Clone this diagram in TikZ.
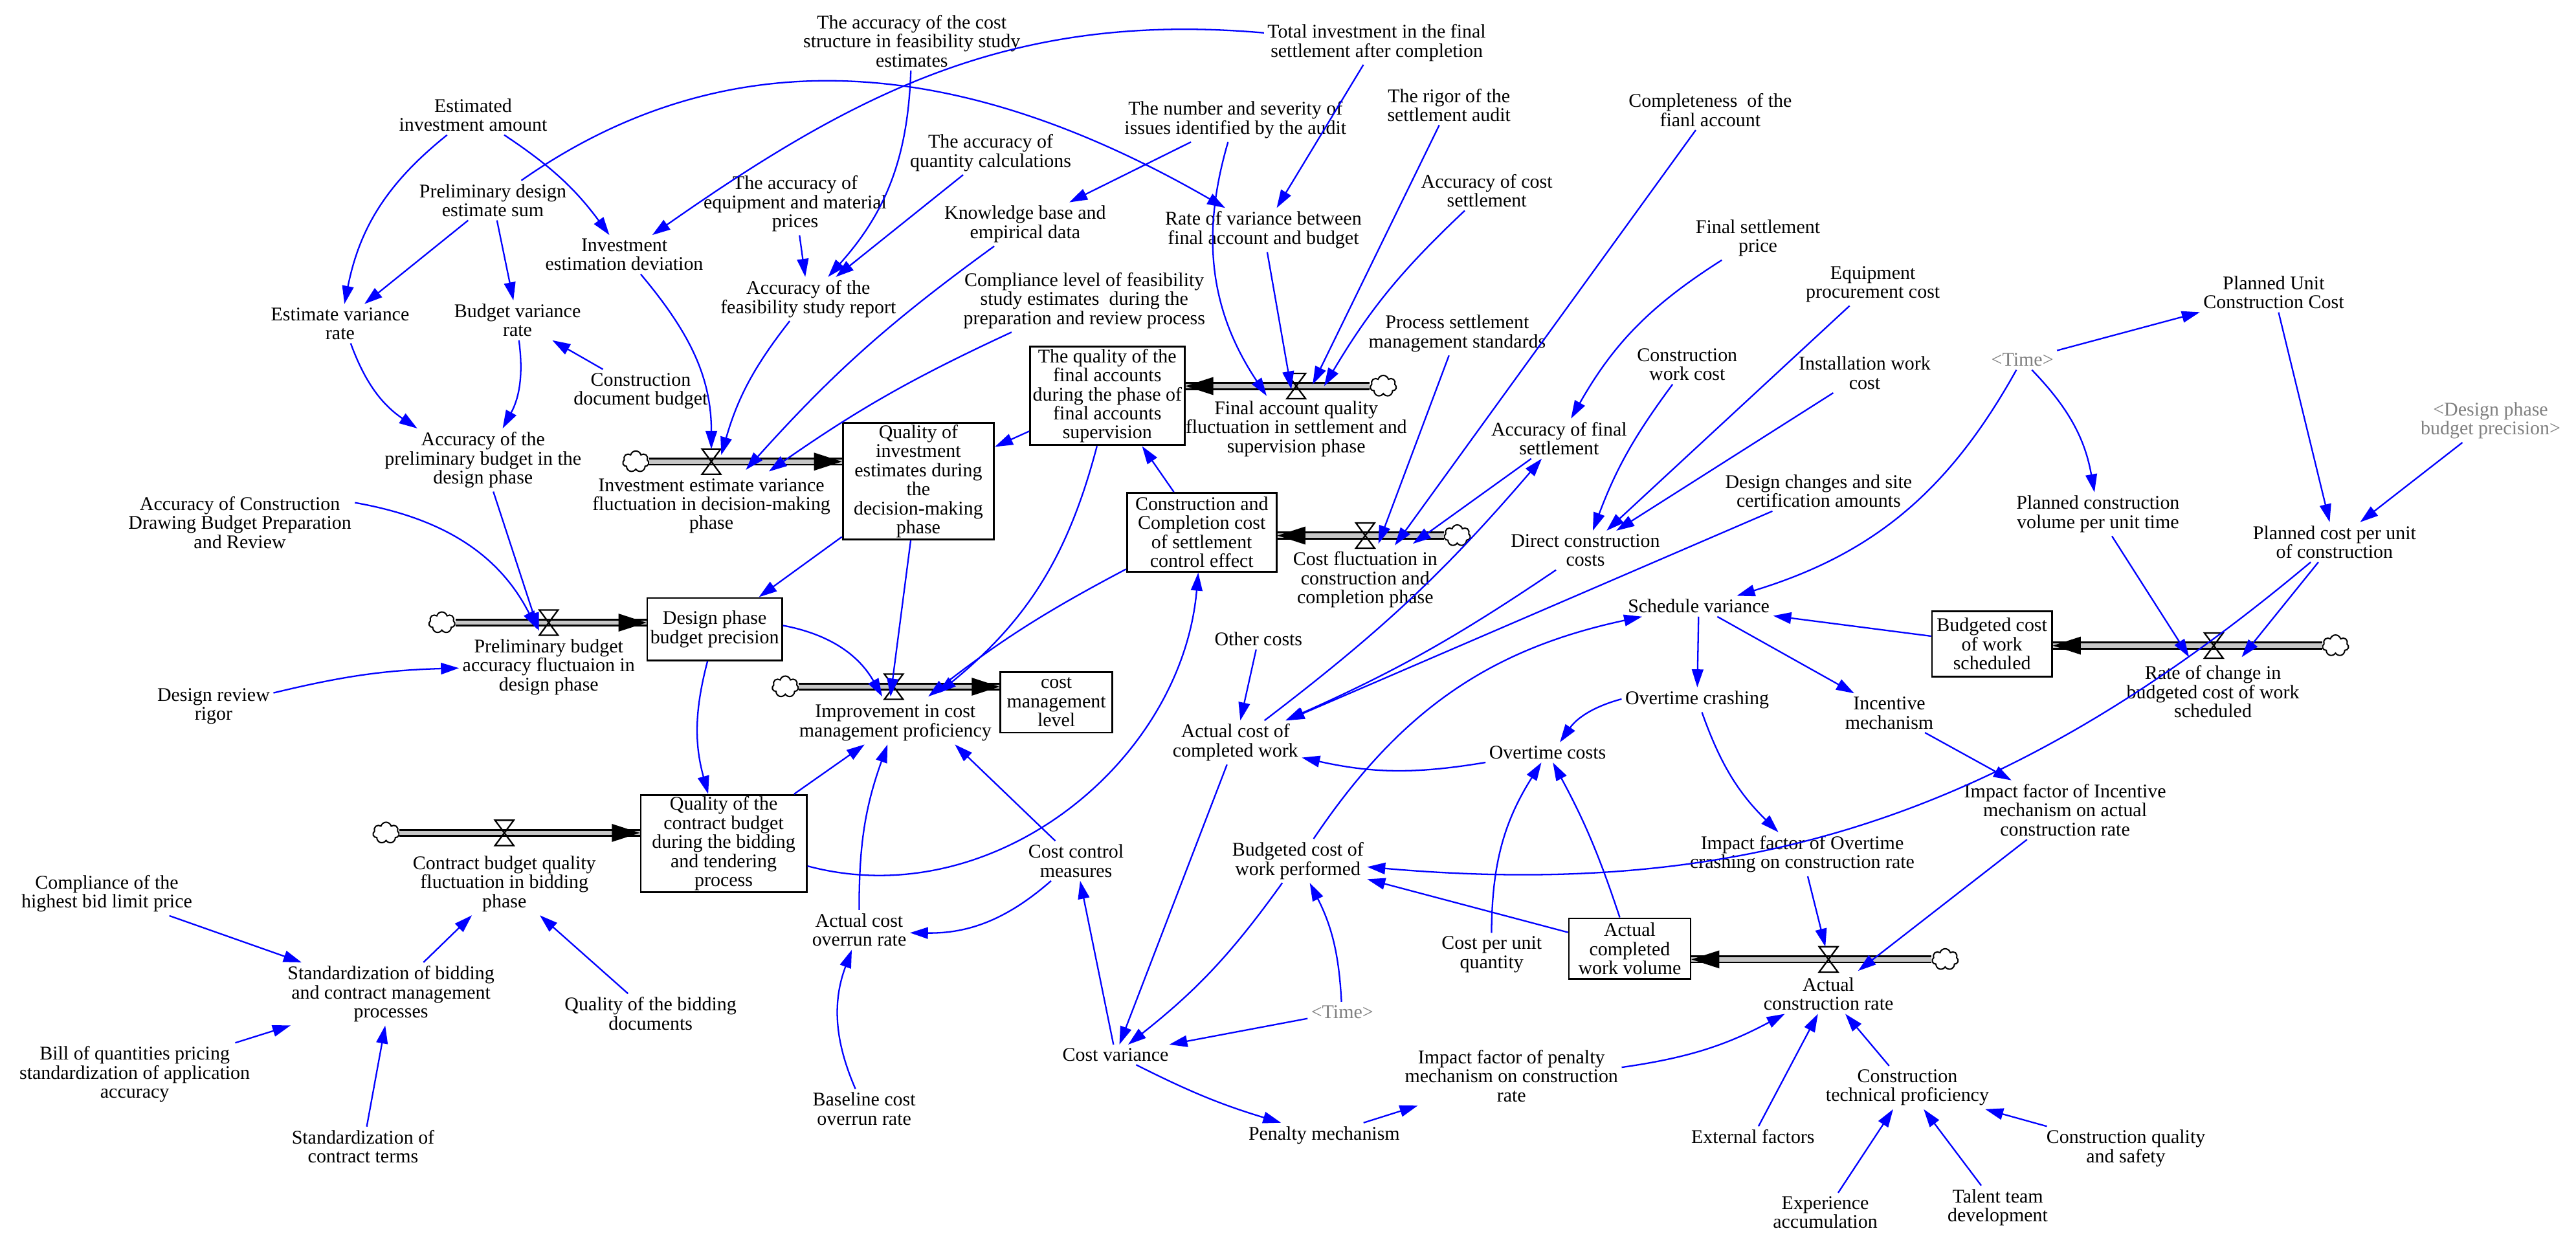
\documentclass[tikz,border=0pt]{standalone}
\usepackage{fontspec}
\setmainfont{Liberation Serif}
\usetikzlibrary{arrows.meta,shapes.symbols,calc}
\definecolor{lkblue}{RGB}{0,0,255}
\definecolor{shgray}{RGB}{128,128,128}
\newcommand{\drawvalve}[1]{\draw[black,line width=0.9pt] (#1.north west) -- (#1.north east) -- (#1.south west) -- (#1.south east) -- cycle;}
\begin{document}
\begin{tikzpicture}[x=1pt,y=1pt,
 v/.style={align=center,inner sep=2pt,font=\fontsize{11.8}{11.6}\selectfont},
 gv/.style={v,text=shgray},
 stock/.style={v,draw=black,line width=1.1pt,inner sep=1pt},
 lk/.style={draw=lkblue,line width=0.9pt,-{Triangle[length=11pt,width=7pt]}},
 pipe/.style={draw=black,line width=1.1pt,double=gray!45,double distance=2.6pt},
 cloudn/.style={cloud,cloud puffs=7,aspect=1.2,draw=black,fill=white,line width=0.8pt,minimum width=16pt,minimum height=13pt,inner sep=0pt},
 valve/.style={inner sep=0pt,minimum width=11pt,minimum height=15pt}]
\path[fill=white] (0,0) rectangle (1568,-762.7);
\useasboundingbox (0,0) rectangle (1568,-762.7);

% ---------- variables ----------
\node[v] (estinv) at (288,-70) {Estimated\\investment amount};
\node[v] (prelim) at (300,-122) {Preliminary design\\estimate sum};
\node[v] (invdev) at (380,-155) {Investment\\estimation deviation};
\node[v] (estvar) at (207,-197) {Estimate variance\\rate};
\node[v] (budvar) at (315,-195) {Budget variance\\rate};
\node[v] (cdb) at (390,-238) {Construction\\document budget};
\node[v] (accprel) at (294,-280) {Accuracy of the\\preliminary budget in the\\design phase};
\node[v] (accCDBP) at (146,-318) {Accuracy of Construction\\Drawing Budget Preparation\\and Review};
\node[v] (review) at (130,-430) {Design review\\rigor};
\node[v] (lblA) at (334,-406) {Preliminary budget\\accuracy fluctuaion in\\design phase};
\node[stock,minimum width=82pt,minimum height=38pt] (sDesign) at (435,-383) {Design phase\\budget precision};
\node[v] (lblB) at (433,-308) {Investment estimate variance\\fluctuation in decision-making\\phase};
\node[stock,minimum width=92pt,minimum height=70pt] (sQInv) at (559,-293) {Quality of\\investment\\estimates during\\the\\decision-making\\phase};
\node[v] (coststruct) at (555,-25) {The accuracy of the cost\\structure in feasibility study\\estimates};
\node[v] (accEquip) at (484,-124) {The accuracy of\\equipment and material\\prices};
\node[v] (accQty) at (603,-93) {The accuracy of\\quantity calculations};
\node[v] (accFS) at (492,-182) {Accuracy of the\\feasibility study report};
\node[v] (know) at (624,-136.5) {Knowledge base and\\empirical data};
\node[v] (compLevel) at (660,-183) {Compliance level of feasibility\\study estimates~ during the\\preparation and review process};
\node[v] (numsev) at (752,-73) {The number and severity of\\issues identified by the audit};
\node[v] (totinv) at (838,-26) {Total investment in the final\\settlement after completion};
\node[v] (rateVar) at (769,-140) {Rate of variance between\\final account and budget};
\node[v] (rigor) at (882,-64) {The rigor of the\\settlement audit};
\node[v] (accCostSet) at (905,-116) {Accuracy of cost\\settlement};
\node[v] (complete) at (1041,-67) {Completeness~ of the\\fianl account};
\node[v] (procStd) at (887,-203) {Process settlement\\management standards};
\node[v] (finalPrice) at (1070,-145) {Final settlement\\price};
\node[v] (equip) at (1140,-173) {Equipment\\procurement cost};
\node[v] (constrWork) at (1027,-222) {Construction\\work cost};
\node[v] (install) at (1135,-227) {Installation work\\cost};
\node[stock,minimum width=94pt,minimum height=60pt] (sFinal) at (674,-241) {The quality of the\\final accounts\\during the phase of\\final accounts\\supervision};
\node[v] (lblC) at (789,-261) {Final account quality\\fluctuation in settlement and\\supervision phase};
\node[stock,minimum width=91pt,minimum height=48pt] (sCC) at (731.5,-324) {Construction and\\Completion cost\\of settlement\\control effect};
\node[v] (lblD) at (831,-353) {Cost fluctuation in\\construction and\\completion phase};
\node[v] (accFinal) at (949,-267) {Accuracy of final\\settlement};
\node[v] (direct) at (965,-335) {Direct construction\\costs};
\node[v] (designChg) at (1107,-299) {Design changes and site\\certification amounts};
\node[v] (SV) at (1034,-369) {Schedule variance};
\node[stock,minimum width=73pt,minimum height=40pt] (sBCWS) at (1212.5,-392) {Budgeted cost\\of work\\scheduled};
\node[v] (lblH) at (1347,-421) {Rate of change in\\budgeted cost of work\\scheduled};
\node[v] (PCVUT) at (1277,-313) {Planned construction\\volume per unit time};
\node[v] (PCPU) at (1421,-330) {Planned cost per unit\\of construction};
\node[gv] (dshadow) at (1516,-256) {<Design phase\\budget precision>};
\node[v] (PUCC) at (1384,-178) {Planned Unit\\Construction Cost};
\node[gv] (timeTop) at (1231,-219) {<Time>};
\node[v] (other) at (766,-389) {Other costs};
\node[v] (ACWP) at (752,-452) {Actual cost of\\completed work};
\node[v] (OTcrash) at (1033,-426) {Overtime crashing};
\node[v] (OTcosts) at (942,-458) {Overtime costs};
\node[v] (incent) at (1150,-434) {Incentive\\mechanism};
\node[v] (IFI) at (1257,-493) {Impact factor of Incentive\\mechanism on actual\\construction rate};
\node[v] (IFO) at (1097,-520) {Impact factor of Overtime\\crashing on construction rate};
\node[v] (BCWP) at (790,-524) {Budgeted cost of\\work performed};
\node[v] (CPU) at (908,-581) {Cost per unit\\quantity};
\node[stock,minimum width=74pt,minimum height=37pt] (sACWV) at (992,-577.5) {Actual\\completed\\work volume};
\node[v] (lblG) at (1113,-605) {Actual\\construction rate};
\node[gv] (timeBot) at (817,-616) {<Time>};
\node[v] (CV) at (679,-642) {Cost variance};
\node[v] (CCM) at (655,-524) {Cost control\\measures};
\node[v] (ACOR) at (523,-566) {Actual cost\\overrun rate};
\node[v] (baseline) at (526,-675) {Baseline cost\\overrun rate};
\node[v] (penalty) at (806,-691) {Penalty mechanism};
\node[v] (IFP) at (920,-655) {Impact factor of penalty\\mechanism on construction\\rate};
\node[v] (ext) at (1067,-692) {External factors};
\node[v] (CTP) at (1161,-662) {Construction\\technical proficiency};
\node[v] (exper) at (1111,-738) {Experience\\accumulation};
\node[v] (talent) at (1216,-735) {Talent team\\development};
\node[v] (CQS) at (1294,-699) {Construction quality\\and safety};
\node[stock,minimum width=68pt,minimum height=37pt] (sCML) at (643,-427.5) {cost\\management\\level};
\node[v] (lblE) at (545,-440) {Improvement in cost\\management proficiency};
\node[stock,minimum width=101pt,minimum height=59pt] (sContract) at (440.5,-513.5) {Quality of the\\contract budget\\during the bidding\\and tendering\\process};
\node[v] (lblF) at (307,-538) {Contract budget quality\\fluctuation in bidding\\phase};
\node[v] (compBid) at (65,-544) {Compliance of the\\highest bid limit price};
\node[v] (stdBid) at (238,-605) {Standardization of bidding\\and contract management\\processes};
\node[v] (BoQ) at (82,-654) {Bill of quantities pricing\\standardization of application\\accuracy};
\node[v] (stdTerms) at (221,-698) {Standardization of\\contract terms};
\node[v] (qualDoc) at (396,-617) {Quality of the bidding\\documents};

% ---------- clouds and valves ----------
\node[cloudn] (cA) at (269,-379) {};
\node[valve] (vA) at (334,-379) {};
\node[cloudn] (cB) at (387,-281) {};
\node[valve] (vB) at (433,-281) {};
\node[cloudn] (cC) at (842,-235) {};
\node[valve] (vC) at (789,-235) {};
\node[cloudn] (cD) at (887,-326) {};
\node[valve] (vD) at (831,-326) {};
\node[cloudn] (cE) at (478,-418) {};
\node[valve] (vE) at (544,-418) {};
\node[cloudn] (cF) at (235,-507) {};
\node[valve] (vF) at (307,-507) {};
\node[cloudn] (cG) at (1184,-584) {};
\node[valve] (vG) at (1113,-584) {};
\node[cloudn] (cH) at (1421.6,-393) {};
\node[valve] (vH) at (1347.5,-393) {};

% ---------- pipes ----------
\draw[pipe] (cA.east) -- (cA.east -| sDesign.west);
\fill (cA.east -| sDesign.west) -- ++(-17,5.5) -- ++(0,-11) -- cycle;
\draw[pipe] (cB.east) -- (cB.east -| sQInv.west);
\fill (cB.east -| sQInv.west) -- ++(-17,5.5) -- ++(0,-11) -- cycle;
\draw[pipe] (cE.east) -- (cE.east -| sCML.west);
\fill (cE.east -| sCML.west) -- ++(-17,5.5) -- ++(0,-11) -- cycle;
\draw[pipe] (cF.east) -- (cF.east -| sContract.west);
\fill (cF.east -| sContract.west) -- ++(-17,5.5) -- ++(0,-11) -- cycle;
\draw[pipe] (cC.west) -- (cC.west -| sFinal.east);
\fill (cC.west -| sFinal.east) -- ++(17,5.5) -- ++(0,-11) -- cycle;
\draw[pipe] (cD.west) -- (cD.west -| sCC.east);
\fill (cD.west -| sCC.east) -- ++(17,5.5) -- ++(0,-11) -- cycle;
\draw[pipe] (cG.west) -- (cG.west -| sACWV.east);
\fill (cG.west -| sACWV.east) -- ++(17,5.5) -- ++(0,-11) -- cycle;
\draw[pipe] (cH.west) -- (cH.west -| sBCWS.east);
\fill (cH.west -| sBCWS.east) -- ++(17,5.5) -- ++(0,-11) -- cycle;
\drawvalve{vA}\drawvalve{vB}\drawvalve{vC}\drawvalve{vD}
\drawvalve{vE}\drawvalve{vF}\drawvalve{vG}\drawvalve{vH}

% ---------- links ----------
\draw[lk] (estinv) to[bend right=20] (estvar);
\draw[lk] (estinv) to[bend left=10] (invdev);
\draw[lk] (prelim) -- (estvar);
\draw[lk] (prelim) -- (budvar);
\draw[lk] (estvar) to[bend right=18] (accprel);
\draw[lk] (budvar) to[bend left=18] (accprel);
\draw[lk] (cdb) -- (budvar);
\draw[lk] (prelim) to[out=35,in=150] (rateVar);
\draw[lk] (totinv) to[out=175,in=35] (invdev);
\draw[lk] (coststruct) to[bend left=20] (accFS);
\draw[lk] (accEquip) -- (accFS);
\draw[lk] (accQty) -- (accFS);
\draw[lk] (invdev) to[out=-50,in=90] (vB);
\draw[lk] (accFS) to[bend right=11] ([xshift=6pt,yshift=4pt]vB.center);
\draw[lk] (know) to[bend right=6] ([xshift=21pt,yshift=-5pt]vB.center);
\draw[lk] (compLevel) to[bend right=5] ([xshift=35pt,yshift=-6pt]vB.center);
\draw[lk] (accprel) -- ([xshift=-6pt,yshift=-5pt]vA.center);
\draw[lk] ([yshift=-6pt]accCDBP.north east) to[out=-10,in=117] ([xshift=-7pt,yshift=-4pt]vA.center);
\draw[lk] (review) to[bend left=6] (lblA);
\draw[lk] (sQInv) -- (sDesign);
\draw[lk] (sFinal) -- (sQInv);
\draw[lk] (sQInv) -- ([xshift=-2pt,yshift=-6pt]vE.center);
\draw[lk] (sDesign) to[bend left=25] ([xshift=-7pt,yshift=-6pt]vE.center);
\draw[lk] (sFinal) to[bend left=18] ([xshift=27pt,yshift=-4pt]vE.center);
\draw[lk] (sCC) to[bend right=5] ([xshift=21pt,yshift=-6pt]vE.center);
\draw[lk] (sCC) -- (sFinal);
\draw[lk] (sDesign) to[bend right=15] (sContract);
\draw[lk] (sContract) -- (lblE);
\draw[lk] (sContract) to[out=-15,in=-95] (sCC);
\draw[lk] (ACOR) to[bend left=10] (lblE);
\draw[lk] (CCM) -- (lblE.-20);
\draw[lk] (CCM) to[bend left=21] (ACOR);
\draw[lk] (baseline) to[bend left=22] (ACOR);
\draw[lk] (compBid) -- (stdBid);
\draw[lk] (BoQ) -- (stdBid);
\draw[lk] (stdTerms) -- (stdBid);
\draw[lk] (stdBid) -- (lblF);
\draw[lk] (qualDoc) -- (lblF);
\draw[lk] (totinv) -- (rateVar);
\draw[lk] (numsev) -- (know);
\draw[lk] (numsev) to[bend right=25] ([xshift=-18pt,yshift=-6pt]vC.center);
\draw[lk] (rateVar) -- ([xshift=-3pt,yshift=-2pt]vC.center);
\draw[lk] (rigor) -- ([xshift=10pt,yshift=1pt]vC.center);
\draw[lk] (accCostSet) to[bend right=8] ([xshift=17pt]vC.center);
\draw[lk] (procStd) -- ([xshift=8pt,yshift=-5pt]vD.center);
\draw[lk] (complete) -- ([xshift=18pt,yshift=-6pt]vD.center);
\draw[lk] (accFinal) -- ([xshift=29pt,yshift=-5pt]vD.center);
\draw[lk] (ACWP) to[bend right=6] (accFinal);
\draw[lk] (finalPrice) to[bend right=14] (accFinal);
\draw[lk] (constrWork) to[bend right=8] (direct);
\draw[lk] (equip) -- (direct);
\draw[lk] (install) -- (direct);
\draw[lk] (direct) to[bend left=5] (ACWP);
\draw[lk] (designChg) -- (ACWP);
\draw[lk] (other) -- (ACWP);
\draw[lk] (OTcosts) to[bend left=11] (ACWP);
\draw[lk] (OTcrash) to[bend right=20] (OTcosts);
\draw[lk] (SV) -- (OTcrash);
\draw[lk] (SV) -- (incent);
\draw[lk] (sBCWS) -- (SV);
\draw[lk] (timeTop) to[bend left=22] (SV);
\draw[lk] (timeTop) -- (PUCC);
\draw[lk] (timeTop) to[bend left=17] (PCVUT);
\draw[lk] (PUCC) -- (PCPU);
\draw[lk] (dshadow) -- (PCPU);
\draw[lk] (PCVUT) -- ([xshift=-15pt,yshift=-7pt]vH.center);
\draw[lk] (PCPU) -- ([xshift=17pt,yshift=-7pt]vH.center);
\draw[lk] (PCPU) to[out=220,in=-5] (BCWP);
\draw[lk] (sACWV) -- (BCWP);
\draw[lk] (CPU) to[bend left=16] (OTcosts);
\draw[lk] (sACWV) to[bend right=5] (OTcosts);
\draw[lk] (BCWP) to[bend left=22] (SV);
\draw[lk] (timeBot) to[bend right=12] (BCWP);
\draw[lk] (timeBot) -- (CV);
\draw[lk] (BCWP) to[bend left=8] (CV);
\draw[lk] (ACWP) -- (CV);
\draw[lk] (CV) -- (CCM);
\draw[lk] (CV) to[bend right=5] (penalty);
\draw[lk] (penalty) -- (IFP);
\draw[lk] (IFP) to[bend right=10] (lblG);
\draw[lk] (ext) -- (lblG);
\draw[lk] (CTP) -- (lblG);
\draw[lk] (exper) -- (CTP);
\draw[lk] (talent) -- (CTP);
\draw[lk] (CQS) -- (CTP);
\draw[lk] (IFO) -- (vG);
\draw[lk] (IFI) -- ([xshift=18pt,yshift=-7pt]vG.center);
\draw[lk] (incent) -- (IFI);
\draw[lk] (OTcrash) to[bend right=13] (IFO);
\end{tikzpicture}
\end{document}
